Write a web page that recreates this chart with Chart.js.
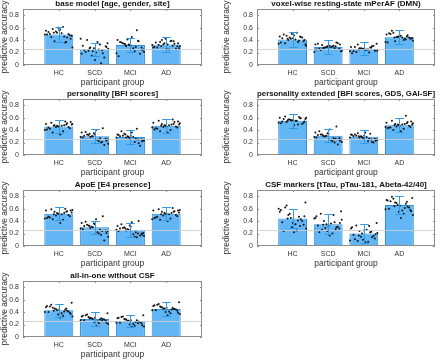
<!DOCTYPE html>
<html>
<head>
<meta charset="utf-8">
<script src="https://cdn.jsdelivr.net/npm/chart.js@4.4.0/dist/chart.umd.min.js"></script>
<style>
  body { margin: 0; width: 440px; height: 361px; overflow: hidden; background: #fff; position: relative; }
  canvas { position: absolute; }
</style>
</head>
<body>
<canvas id="p1" width="220" height="90" style="left:0;top:0"></canvas>
<canvas id="p2" width="220" height="90" style="left:220px;top:0"></canvas>
<canvas id="p3" width="220" height="90" style="left:0;top:90px"></canvas>
<canvas id="p4" width="220" height="90" style="left:220px;top:90px"></canvas>
<canvas id="p5" width="220" height="90" style="left:0;top:181px"></canvas>
<canvas id="p6" width="220" height="90" style="left:220px;top:181px"></canvas>
<canvas id="p7" width="220" height="90" style="left:0;top:272px"></canvas>
<script>
// groups and axis ticks
const groups = ['HC', 'SCD', 'MCI', 'AD'];
const yTicks = [0, 0.2, 0.4, 0.6, 0.8];
const yTickLabels = ['0', '0.2', '0.4', '0.6', '0.8'];
const chance = 0.25;
// horizontal spread of the fold dots around each bar
const jitter = [-0.05, 0.31, -0.36, 0.12, -0.21, 0.27, -0.12, 0.04, 0.36, -0.29, 0.18, -0.02, -0.33,
                0.23, 0.08, -0.17, 0.38, -0.08, 0.15, -0.25, 0.33, 0.01, -0.39, 0.21, -0.14];

// base model [age, gender, site]
const baseMean = [0.49, 0.25, 0.32, 0.33];
const baseSd = [0.115, 0.105, 0.11, 0.115];
const baseDots = [
  [0.52,0.48,0.55,0.61,0.45,0.50,0.38,0.57,0.47,0.53,0.36,0.60,0.49,0.44,0.51,0.58,0.28,0.54,0.46,0.50,0.42,0.56,0.49,0.37,0.52],
  [0.22,0.30,0.18,0.25,0.40,0.12,0.28,0.20,0.35,0.24,0.03,0.27,0.31,0.19,0.37,0.23,0.26,0.15,0.33,0.21,0.29,0.08,0.42,0.24,0.27],
  [0.33,0.28,0.40,0.22,0.35,0.18,0.30,0.45,0.25,0.37,0.56,0.32,0.14,0.38,0.27,0.34,0.21,0.41,0.29,0.36,0.24,0.31,0.19,0.39,0.33],
  [0.35,0.30,0.28,0.38,0.32,0.26,0.40,0.33,0.27,0.36,0.31,0.42,0.29,0.34,0.25,0.37,0.30,0.33,0.39,0.28,0.35,0.26,0.32,0.38,0.30]
];

// voxel-wise resting-state mPerAF (DMN)
const voxMean = [0.41, 0.29, 0.26, 0.445];
const voxSd = [0.12, 0.11, 0.105, 0.115];
const voxDots = [
  [0.42,0.38,0.46,0.52,0.35,0.44,0.40,0.48,0.33,0.43,0.39,0.50,0.36,0.45,0.41,0.47,0.31,0.44,0.37,0.49,0.40,0.43,0.34,0.46,0.42],
  [0.29,0.26,0.33,0.30,0.24,0.35,0.28,0.31,0.22,0.34,0.27,0.30,0.25,0.36,0.29,0.32,0.23,0.28,0.31,0.26,0.33,0.29,0.21,0.30,0.27],
  [0.26,0.23,0.29,0.25,0.21,0.31,0.27,0.24,0.34,0.22,0.28,0.26,0.19,0.30,0.25,0.33,0.23,0.27,0.20,0.29,0.24,0.26,0.22,0.28,0.25],
  [0.45,0.42,0.49,0.40,0.55,0.44,0.38,0.47,0.43,0.51,0.41,0.46,0.36,0.48,0.44,0.52,0.39,0.45,0.42,0.50,0.43,0.47,0.37,0.46,0.44]
];

// personality [BFI scores]
const bfiMean = [0.46, 0.30, 0.29, 0.47];
const bfiSd = [0.11, 0.115, 0.11, 0.11];
const bfiDots = [
  [0.47,0.43,0.50,0.38,0.52,0.45,0.48,0.33,0.49,0.44,0.54,0.46,0.41,0.51,0.47,0.36,0.50,0.45,0.48,0.42,0.53,0.46,0.40,0.49,0.47],
  [0.30,0.26,0.36,0.22,0.33,0.16,0.29,0.40,0.25,0.31,0.20,0.35,0.28,0.43,0.24,0.32,0.18,0.30,0.27,0.37,0.23,0.33,0.29,0.21,0.34],
  [0.29,0.25,0.33,0.21,0.31,0.15,0.28,0.36,0.24,0.30,0.42,0.27,0.32,0.19,0.29,0.34,0.23,0.30,0.26,0.38,0.22,0.31,0.28,0.25,0.33],
  [0.48,0.44,0.52,0.40,0.55,0.46,0.50,0.36,0.49,0.43,0.57,0.47,0.41,0.53,0.48,0.38,0.51,0.45,0.49,0.42,0.54,0.46,0.44,0.50,0.47]
];

// personality extended [BFI scores, GDS, GAI-SF]
const extMean = [0.55, 0.31, 0.295, 0.48];
const extSd = [0.115, 0.105, 0.105, 0.11];
const extDots = [
  [0.56,0.52,0.60,0.55,0.62,0.50,0.57,0.48,0.58,0.54,0.61,0.56,0.51,0.59,0.55,0.53,0.60,0.57,0.49,0.58,0.54,0.56,0.52,0.59,0.55],
  [0.31,0.27,0.36,0.22,0.33,0.17,0.30,0.41,0.25,0.32,0.20,0.35,0.28,0.46,0.24,0.33,0.21,0.30,0.27,0.38,0.23,0.34,0.29,0.26,0.31],
  [0.29,0.26,0.33,0.22,0.31,0.20,0.28,0.36,0.25,0.30,0.34,0.27,0.32,0.21,0.29,0.35,0.24,0.30,0.26,0.33,0.23,0.31,0.28,0.25,0.30],
  [0.49,0.45,0.52,0.42,0.55,0.47,0.50,0.38,0.49,0.44,0.63,0.48,0.43,0.53,0.49,0.40,0.51,0.46,0.50,0.44,0.54,0.47,0.45,0.51,0.48]
];

// ApoE [E4 presence]
const apoMean = [0.52, 0.30, 0.26, 0.52];
const apoSd = [0.10, 0.10, 0.11, 0.10];
const apoDots = [
  [0.53,0.48,0.57,0.42,0.59,0.50,0.55,0.37,0.54,0.47,0.60,0.52,0.45,0.56,0.51,0.43,0.58,0.49,0.53,0.46,0.57,0.52,0.44,0.55,0.51],
  [0.30,0.25,0.37,0.20,0.34,0.09,0.29,0.43,0.24,0.32,0.18,0.36,0.27,0.48,0.22,0.33,0.15,0.31,0.26,0.39,0.21,0.35,0.28,0.24,0.32],
  [0.26,0.20,0.32,0.15,0.29,0.17,0.25,0.38,0.21,0.28,0.14,0.33,0.24,0.40,0.19,0.30,0.16,0.27,0.22,0.35,0.18,0.31,0.26,0.20,0.28],
  [0.53,0.48,0.57,0.44,0.59,0.50,0.55,0.40,0.54,0.46,0.61,0.52,0.45,0.56,0.51,0.42,0.58,0.49,0.53,0.47,0.57,0.52,0.43,0.55,0.51]
];

// CSF markers [tTau, pTau-181, Abeta-42/40]
const csfMean = [0.44, 0.35, 0.20, 0.66];
const csfSd = [0.155, 0.16, 0.15, 0.145];
const csfDots = [
  [0.45,0.34,0.55,0.25,0.62,0.40,0.50,0.22,0.70,0.38,0.47,0.30,0.58,0.43,0.35,0.65,0.28,0.52,0.41,0.24,0.48,0.37,0.60,0.32,0.44],
  [0.35,0.28,0.45,0.20,0.52,0.31,0.40,0.17,0.56,0.33,0.38,0.24,0.48,0.30,0.36,0.26,0.42,0.29,0.50,0.22,0.37,0.32,0.44,0.27,0.34],
  [0.20,0.12,0.28,0.07,0.33,0.16,0.24,0.06,0.37,0.18,0.22,0.10,0.30,0.14,0.26,0.08,0.21,0.15,0.32,0.11,0.19,0.25,0.09,0.23,0.17],
  [0.66,0.58,0.74,0.52,0.79,0.62,0.70,0.45,0.77,0.60,0.68,0.55,0.73,0.63,0.57,0.76,0.50,0.69,0.61,0.72,0.56,0.65,0.59,0.71,0.64]
];

// all-in-one without CSF
const allMean = [0.43, 0.29, 0.26, 0.45];
const allSd = [0.105, 0.11, 0.10, 0.11];
const allDots = [
  [0.43,0.39,0.48,0.34,0.52,0.41,0.46,0.31,0.55,0.40,0.44,0.36,0.50,0.42,0.38,0.47,0.33,0.45,0.41,0.49,0.37,0.44,0.40,0.46,0.42],
  [0.29,0.26,0.33,0.22,0.36,0.28,0.31,0.18,0.38,0.27,0.30,0.24,0.34,0.29,0.25,0.32,0.21,0.30,0.28,0.35,0.23,0.31,0.27,0.26,0.30],
  [0.26,0.22,0.30,0.18,0.33,0.24,0.28,0.16,0.35,0.23,0.27,0.20,0.31,0.25,0.21,0.29,0.17,0.26,0.24,0.32,0.19,0.27,0.23,0.22,0.28],
  [0.46,0.42,0.50,0.38,0.53,0.44,0.48,0.35,0.56,0.43,0.47,0.40,0.51,0.45,0.41,0.49,0.37,0.46,0.44,0.52,0.39,0.47,0.43,0.45,0.48]
];

const fontFam = "'Liberation Sans', Arial, Helvetica, sans-serif";
const textCol = '#333333';

function drawPanel(id, title, mean, sd, dots, rightCol) {
  const ctx = document.getElementById(id);

  const dotPoints = [];
  dots.forEach((vals, g) => {
    vals.forEach((v, k) => dotPoints.push({ x: g + 1 + jitter[k], y: v }));
  });

  // chance line, error bars, box and inward ticks
  const extras = {
    id: 'extras',
    afterDatasetsDraw(chart) {
      const c = chart.ctx, a = chart.chartArea, x = chart.scales.x, y = chart.scales.y;
      c.save();
      c.lineWidth = 1;
      const yc = Math.round(y.getPixelForValue(chance)) + 0.5;
      c.strokeStyle = 'rgba(205,205,205,0.85)';
      c.beginPath(); c.moveTo(a.left, yc); c.lineTo(a.right, yc); c.stroke();

      c.strokeStyle = '#2f9be8';
      const capW = x.getPixelForValue(1.12) - x.getPixelForValue(1);
      mean.forEach((m, i) => {
        const px = Math.round(x.getPixelForValue(i + 1)) + 0.5;
        const t = Math.round(y.getPixelForValue(m + sd[i])) + 0.5;
        const b = Math.round(y.getPixelForValue(m - sd[i])) + 0.5;
        c.beginPath();
        c.moveTo(px, t); c.lineTo(px, b);
        c.moveTo(px - capW, t); c.lineTo(px + capW, t);
        c.moveTo(px - capW, b); c.lineTo(px + capW, b);
        c.stroke();
      });

      c.strokeStyle = '#8c8c8c';
      c.strokeRect(Math.round(a.left) + 0.5, Math.round(a.top) + 0.5,
                   Math.round(a.width) - 1, Math.round(a.height) - 1);
      c.beginPath();
      yTicks.forEach(v => {
        const py = Math.round(y.getPixelForValue(v)) + 0.5;
        c.moveTo(a.left, py); c.lineTo(a.left + 2, py);
        c.moveTo(a.right, py); c.lineTo(a.right - 2, py);
      });
      groups.forEach((g, i) => {
        const px = Math.round(x.getPixelForValue(i + 1)) + 0.5;
        c.moveTo(px, a.bottom); c.lineTo(px, a.bottom - 2);
        c.moveTo(px, a.top); c.lineTo(px, a.top + 2);
      });
      c.stroke();
      c.restore();
    }
  };

  new Chart(ctx, {
    type: 'bar',
    data: {
      datasets: [{
        type: 'bar',
        data: mean.map((m, i) => ({ x: i + 1, y: m })),
        backgroundColor: '#63b6f5',
        borderColor: '#2c8fd8',
        borderWidth: 1,
        barPercentage: 0.81,
        categoryPercentage: 1,
        order: 2
      }, {
        type: 'scatter',
        data: dotPoints,
        pointRadius: 1,
        pointBorderWidth: 0,
        backgroundColor: '#111111',
        order: 1
      }]
    },
    options: {
      responsive: false,
      animation: false,
      layout: { padding: { left: rightCol ? 2 : 0, right: rightCol ? 5 : 18, top: 0, bottom: 0 } },
      plugins: {
        legend: { display: false },
        tooltip: { enabled: false },
        title: {
          display: true,
          text: title,
          fullSize: false,
          color: '#111111',
          font: { family: fontFam, size: 8, weight: 'bold', lineHeight: 1 },
          padding: { top: 0, bottom: 1 }
        }
      },
      scales: {
        x: {
          type: 'linear',
          min: 0,
          max: 5,
          offset: false,
          grid: { display: false, drawTicks: false },
          border: { display: false },
          afterBuildTicks: s => { s.ticks = groups.map((g, i) => ({ value: i + 1 })); },
          afterFit: s => { s.height = 25; },
          ticks: {
            padding: 4,
            color: textCol,
            font: { family: fontFam, size: 7 },
            callback: v => groups[v - 1]
          },
          title: {
            display: true,
            text: 'participant group',
            color: textCol,
            font: { family: fontFam, size: 8.5 },
            padding: { top: 0, bottom: 2 }
          }
        },
        y: {
          min: 0,
          max: 0.9,
          grid: { display: false, drawTicks: false },
          border: { display: false },
          afterBuildTicks: s => { s.ticks = yTicks.map(v => ({ value: v })); },
          afterFit: s => { s.width = rightCol ? 35 : 23; },
          ticks: {
            padding: 4,
            color: textCol,
            font: { family: fontFam, size: 7 },
            callback: (v, i) => yTickLabels[i]
          },
          title: {
            display: true,
            text: 'predictive accuracy',
            color: textCol,
            font: { family: fontFam, size: 8.5 },
            padding: { top: 0, bottom: 0 }
          }
        }
      }
    },
    plugins: [extras]
  });
}

drawPanel('p1', 'base model [age, gender, site]', baseMean, baseSd, baseDots, false);
drawPanel('p2', 'voxel-wise resting-state mPerAF (DMN)', voxMean, voxSd, voxDots, true);
drawPanel('p3', 'personality [BFI scores]', bfiMean, bfiSd, bfiDots, false);
drawPanel('p4', 'personality extended [BFI scores, GDS, GAI-SF]', extMean, extSd, extDots, true);
drawPanel('p5', 'ApoE [E4 presence]', apoMean, apoSd, apoDots, false);
drawPanel('p6', 'CSF markers [tTau, pTau-181, Abeta-42/40]', csfMean, csfSd, csfDots, true);
drawPanel('p7', 'all-in-one without CSF', allMean, allSd, allDots, false);
</script>
</body>
</html>
